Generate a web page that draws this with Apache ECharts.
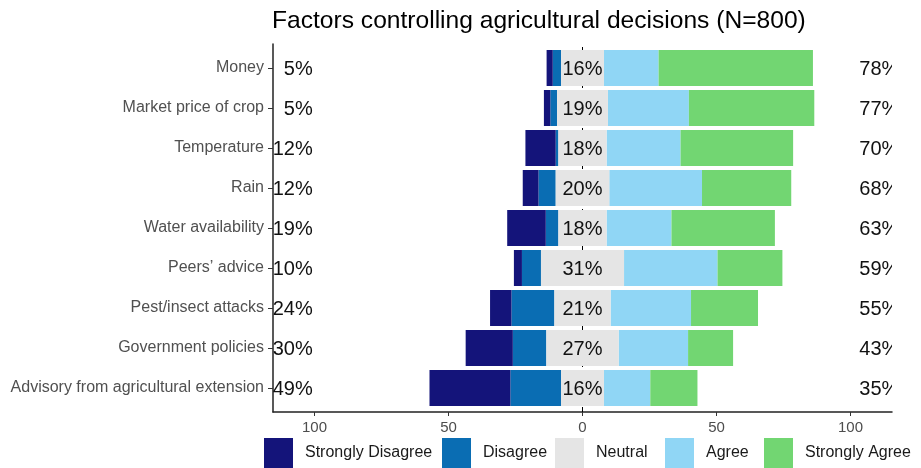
<!DOCTYPE html>
<html><head><meta charset="utf-8">
<script src="https://cdn.jsdelivr.net/npm/echarts@6/dist/echarts.min.js"></script>
<style>html,body{margin:0;padding:0;background:#fff}#c{width:921px;height:468px}</style>
</head><body><div id="c"></div>
<script>
const categories = ['Money','Market price of crop','Temperature','Rain','Water availability','Peers\u2019 advice','Pest/insect attacks','Government policies','Advisory from agricultural extension'];
const stronglyDisagree = [2.3, 2.4, 11.3, 5.9, 14.4, 3.0, 8.0, 17.6, 30.2];
const disagree         = [3.1, 2.5, 1.0, 6.4, 4.7, 7.1, 16.0, 12.5, 18.9];
const neutral          = [16, 19, 18, 20, 18, 31, 21, 27, 16];
const agree            = [20.4, 30.2, 27.6, 34.6, 24.2, 34.9, 30.0, 25.9, 17.3];
const stronglyAgree    = [57.6, 46.8, 42.0, 33.3, 38.6, 24.2, 25.0, 16.8, 17.6];
const xTicks = [-100, -50, 0, 50, 100];
const legendNames = ['Strongly Disagree','Disagree','Neutral','Agree','Strongly Agree'];
const titleText = 'Factors controlling agricultural decisions (N=800)';

const COL = {sd:'#14147a', d:'#0a6db3', n:'#e5e5e5', a:'#90d6f5', sa:'#72d672'};
const FONT = '"Liberation Sans", Arial, Helvetica, sans-serif';
const X_MIN = -115.5, X_MAX = 115.5;

const lowPct = stronglyDisagree.map((v,i)=>Math.round(v+disagree[i]) + '%');
const midPct = neutral.map(v=>Math.round(v) + '%');
const highPct = agree.map((v,i)=>Math.round(v+stronglyAgree[i]) + '%');

function labelSeries(xVal, texts, align){
  return {
    type:'custom', xAxisIndex:1, yAxisIndex:1, clip:true, zlevel:1, z:5, silent:true,
    data: texts.map((t,i)=>[xVal, i]),
    renderItem: function(params, api){
      const p = api.coord([api.value(0), api.value(1)]);
      return {type:'text', x:p[0], y:p[1] + 1.5, style:{
        text: texts[params.dataIndex],
        font: '20px ' + FONT, fill:'#111', align: align, verticalAlign:'middle'}};
    }
  };
}

const barBase = {type:'bar', stack:'s', xAxisIndex:1, yAxisIndex:1, barWidth:36, zlevel:1, z:3, silent:true};
const legendLeft = [264, 442, 555, 665, 764];

const option = {
  animation:false,
  backgroundColor:'#fff',
  textStyle:{fontFamily:FONT},
  title:{text:titleText, left:267, top:4, textStyle:{fontSize:24.6, fontWeight:'normal', color:'#000', fontFamily:FONT}},
  legend: legendNames.map((n,i)=>({
    data:[n], left:legendLeft[i], top:438, padding:0, itemGap:0,
    itemWidth:29, itemHeight:30, icon:'rect', selectedMode:false,
    itemStyle:{borderWidth:0},
    textStyle:{fontSize:16, color:'#1a1a1a', fontFamily:FONT, padding:[0,0,0,7]}
  })),
  grid:[
    {left:273, right:29, top:44, bottom:56},
    {left:273, right:29, top:48, bottom:60}
  ],
  xAxis:[
    {type:'value', gridIndex:0, min:X_MIN, max:X_MAX,
     axisLine:{show:true, onZero:false, lineStyle:{color:'#222', width:1.5}},
     axisTick:{show:true, length:4, customValues:xTicks, lineStyle:{color:'#333'}},
     axisLabel:{customValues:xTicks, margin:8, fontSize:15, color:'#4d4d4d', fontFamily:FONT, formatter:v=>String(Math.abs(v))},
     splitLine:{show:false}},
    {type:'value', gridIndex:1, min:X_MIN, max:X_MAX, show:false, splitLine:{show:false}, axisLine:{show:false}, axisTick:{show:false}}
  ],
  yAxis:[
    {type:'value', gridIndex:0, min:0, max:1,
     axisLine:{show:true, onZero:false, lineStyle:{color:'#222', width:1.5}},
     axisTick:{show:false}, axisLabel:{show:false}, splitLine:{show:false}},
    {type:'category', gridIndex:1, data:categories, inverse:true,
     axisLine:{show:false, onZero:false},
     axisTick:{show:true, alignWithLabel:true, length:5, lineStyle:{color:'#333'}},
     axisLabel:{margin:9, fontSize:16, color:'#505050', fontFamily:FONT, padding:[3,0,0,0]},
     splitLine:{show:false}}
  ],
  series:[
    {type:'line', xAxisIndex:0, yAxisIndex:0, data:[[0,0],[0,1]], symbol:'none', silent:true, zlevel:0, z:0,
     lineStyle:{type:[5,4], color:'#000', width:1}},
    Object.assign({}, barBase, {name:'_neutralLeft', data:neutral.map(v=>-v/2), itemStyle:{color:'rgba(0,0,0,0)'}}),
    Object.assign({}, barBase, {name:'Disagree', data:disagree.map(v=>-v), itemStyle:{color:COL.d}}),
    Object.assign({}, barBase, {name:'Strongly Disagree', data:stronglyDisagree.map(v=>-v), itemStyle:{color:COL.sd}}),
    Object.assign({}, barBase, {name:'_neutralRight', data:neutral.map(v=>v/2), itemStyle:{color:'rgba(0,0,0,0)'}}),
    Object.assign({}, barBase, {name:'Agree', data:agree, itemStyle:{color:COL.a}}),
    Object.assign({}, barBase, {name:'Strongly Agree', data:stronglyAgree, itemStyle:{color:COL.sa}}),
    {type:'custom', name:'Neutral', xAxisIndex:1, yAxisIndex:1, zlevel:1, z:4, silent:true,
     itemStyle:{color:COL.n},
     data: neutral.map((v,i)=>[-v/2, v/2, i]),
     encode:{x:[0,1], y:2},
     renderItem: function(params, api){
       const a = api.coord([api.value(0), api.value(2)]);
       const b = api.coord([api.value(1), api.value(2)]);
       const h = api.size([0,1])[1] * 0.9;
       return {type:'rect', shape:{x:a[0], y:a[1]-h/2, width:b[0]-a[0], height:h}, style:{fill:COL.n}};
     }},
    labelSeries(-100.7, lowPct, 'right'),
    labelSeries(0, midPct, 'center'),
    labelSeries(103.3, highPct, 'left')
  ]
};
const chart = echarts.init(document.getElementById('c'), null, {renderer:'canvas'});
chart.setOption(option);
</script>
</body></html>
